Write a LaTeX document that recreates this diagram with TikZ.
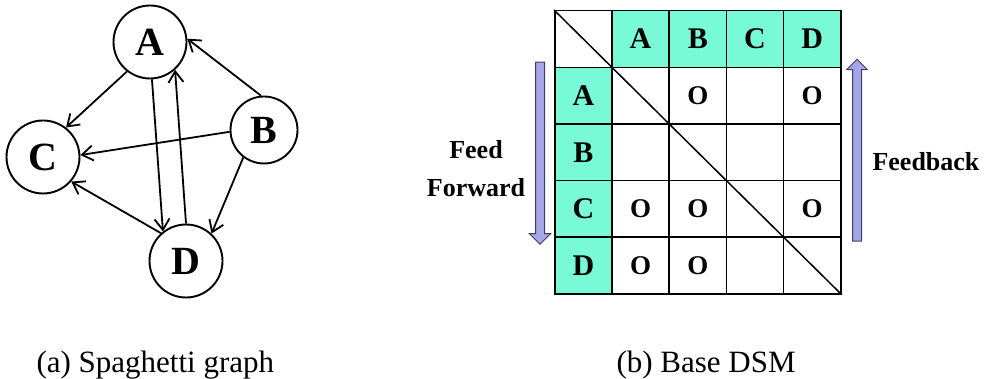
\documentclass[tikz,border=0pt]{standalone}
\usepackage{fontspec}
\setmainfont{Liberation Serif}
\usetikzlibrary{arrows.meta,shapes.arrows}

\definecolor{dsmteal}{RGB}{120,250,215}
\definecolor{flowfill}{RGB}{165,165,232}
\definecolor{flowedge}{RGB}{60,60,100}

\begin{document}
\begin{tikzpicture}[x=1pt,y=-1pt,
  vert/.style={circle, draw, line width=1.9pt, minimum size=73pt, inner sep=0pt,
               font=\fontsize{40}{40}\selectfont\bfseries},
  link/.style={-{Straight Barb[length=11pt,width=15pt]}, line width=1.8pt},
  cell/.style={draw, line width=1.5pt, minimum width=57.2pt, minimum height=56.6pt,
               inner sep=0pt, anchor=north west, font=\fontsize{30}{30}\selectfont\bfseries},
  hdr/.style={cell, fill=dsmteal},
  omark/.style={font=\fontsize{27}{27}\selectfont\bfseries},
  flow/.style={single arrow, fill=flowfill, draw=flowedge, line width=1pt,
               inner sep=4pt, single arrow head extend=6pt,
               single arrow head indent=0pt, minimum height=182pt},
  lab/.style={font=\fontsize{26}{38}\selectfont\bfseries, align=center},
  subcap/.style={font=\fontsize{31}{31}\selectfont, anchor=base west}
]
\useasboundingbox (0,0) rectangle (987,379);

% ---- (a) spaghetti graph ----
\node[vert] (A) at (150,42) {A};
\node[vert] (C) at (43,157) {C};
\node[vert, minimum size=67pt] (B) at (264,130) {B};
\node[vert] (D) at (186,261) {D};

\draw[link] (A.-128) -- (C.52);
\draw[link] (A.-87) -- (D.128);
\draw[link] (D.90) -- (A.-48);
\draw[link] (B.95) -- (A.5);
\draw[link] (B.183) -- (C.3);
\draw[link] (B.-127) -- (D.47);
\draw[link] (D.132) -- (C.-41);

% ---- (b) base DSM ----
\node[cell] (corner) at (554,10) {};
\foreach \n [count=\i] in {A,B,C,D} {
  \node[hdr] (top-\n) at (554+57.2*\i,10) {\n};
  \node[hdr] (side-\n) at (554,10+56.6*\i) {\n};
}
\foreach \rn [count=\r] in {A,B,C,D}
  \foreach \cn [count=\c] in {A,B,C,D}
    \node[cell] (m-\rn-\cn) at (554+57.2*\c,10+56.6*\r) {};

\foreach \rn/\cn in {A/B,A/D,C/A,C/B,C/D,D/A,D/B}
  \node[omark] (o-\rn-\cn) at (m-\rn-\cn) {O};

\draw[line width=1.5pt] (corner.north west) -- (m-D-D.south east);

% flow direction arrows
\node[flow, shape border rotate=270] (fwd) at (540,151) {};
\node[flow, shape border rotate=90] (back) at (857,152.5) {};
\node[lab] (fwd-lab) at (476,169) {Feed\\Forward};
\node[lab, anchor=west] (back-lab) at (869,162) {Feedback};

% captions
\node[subcap] (cap-a) at (33,372) {(a) Spaghetti graph};
\node[subcap] (cap-b) at (613,372) {(b) Base DSM};
\end{tikzpicture}
\end{document}
